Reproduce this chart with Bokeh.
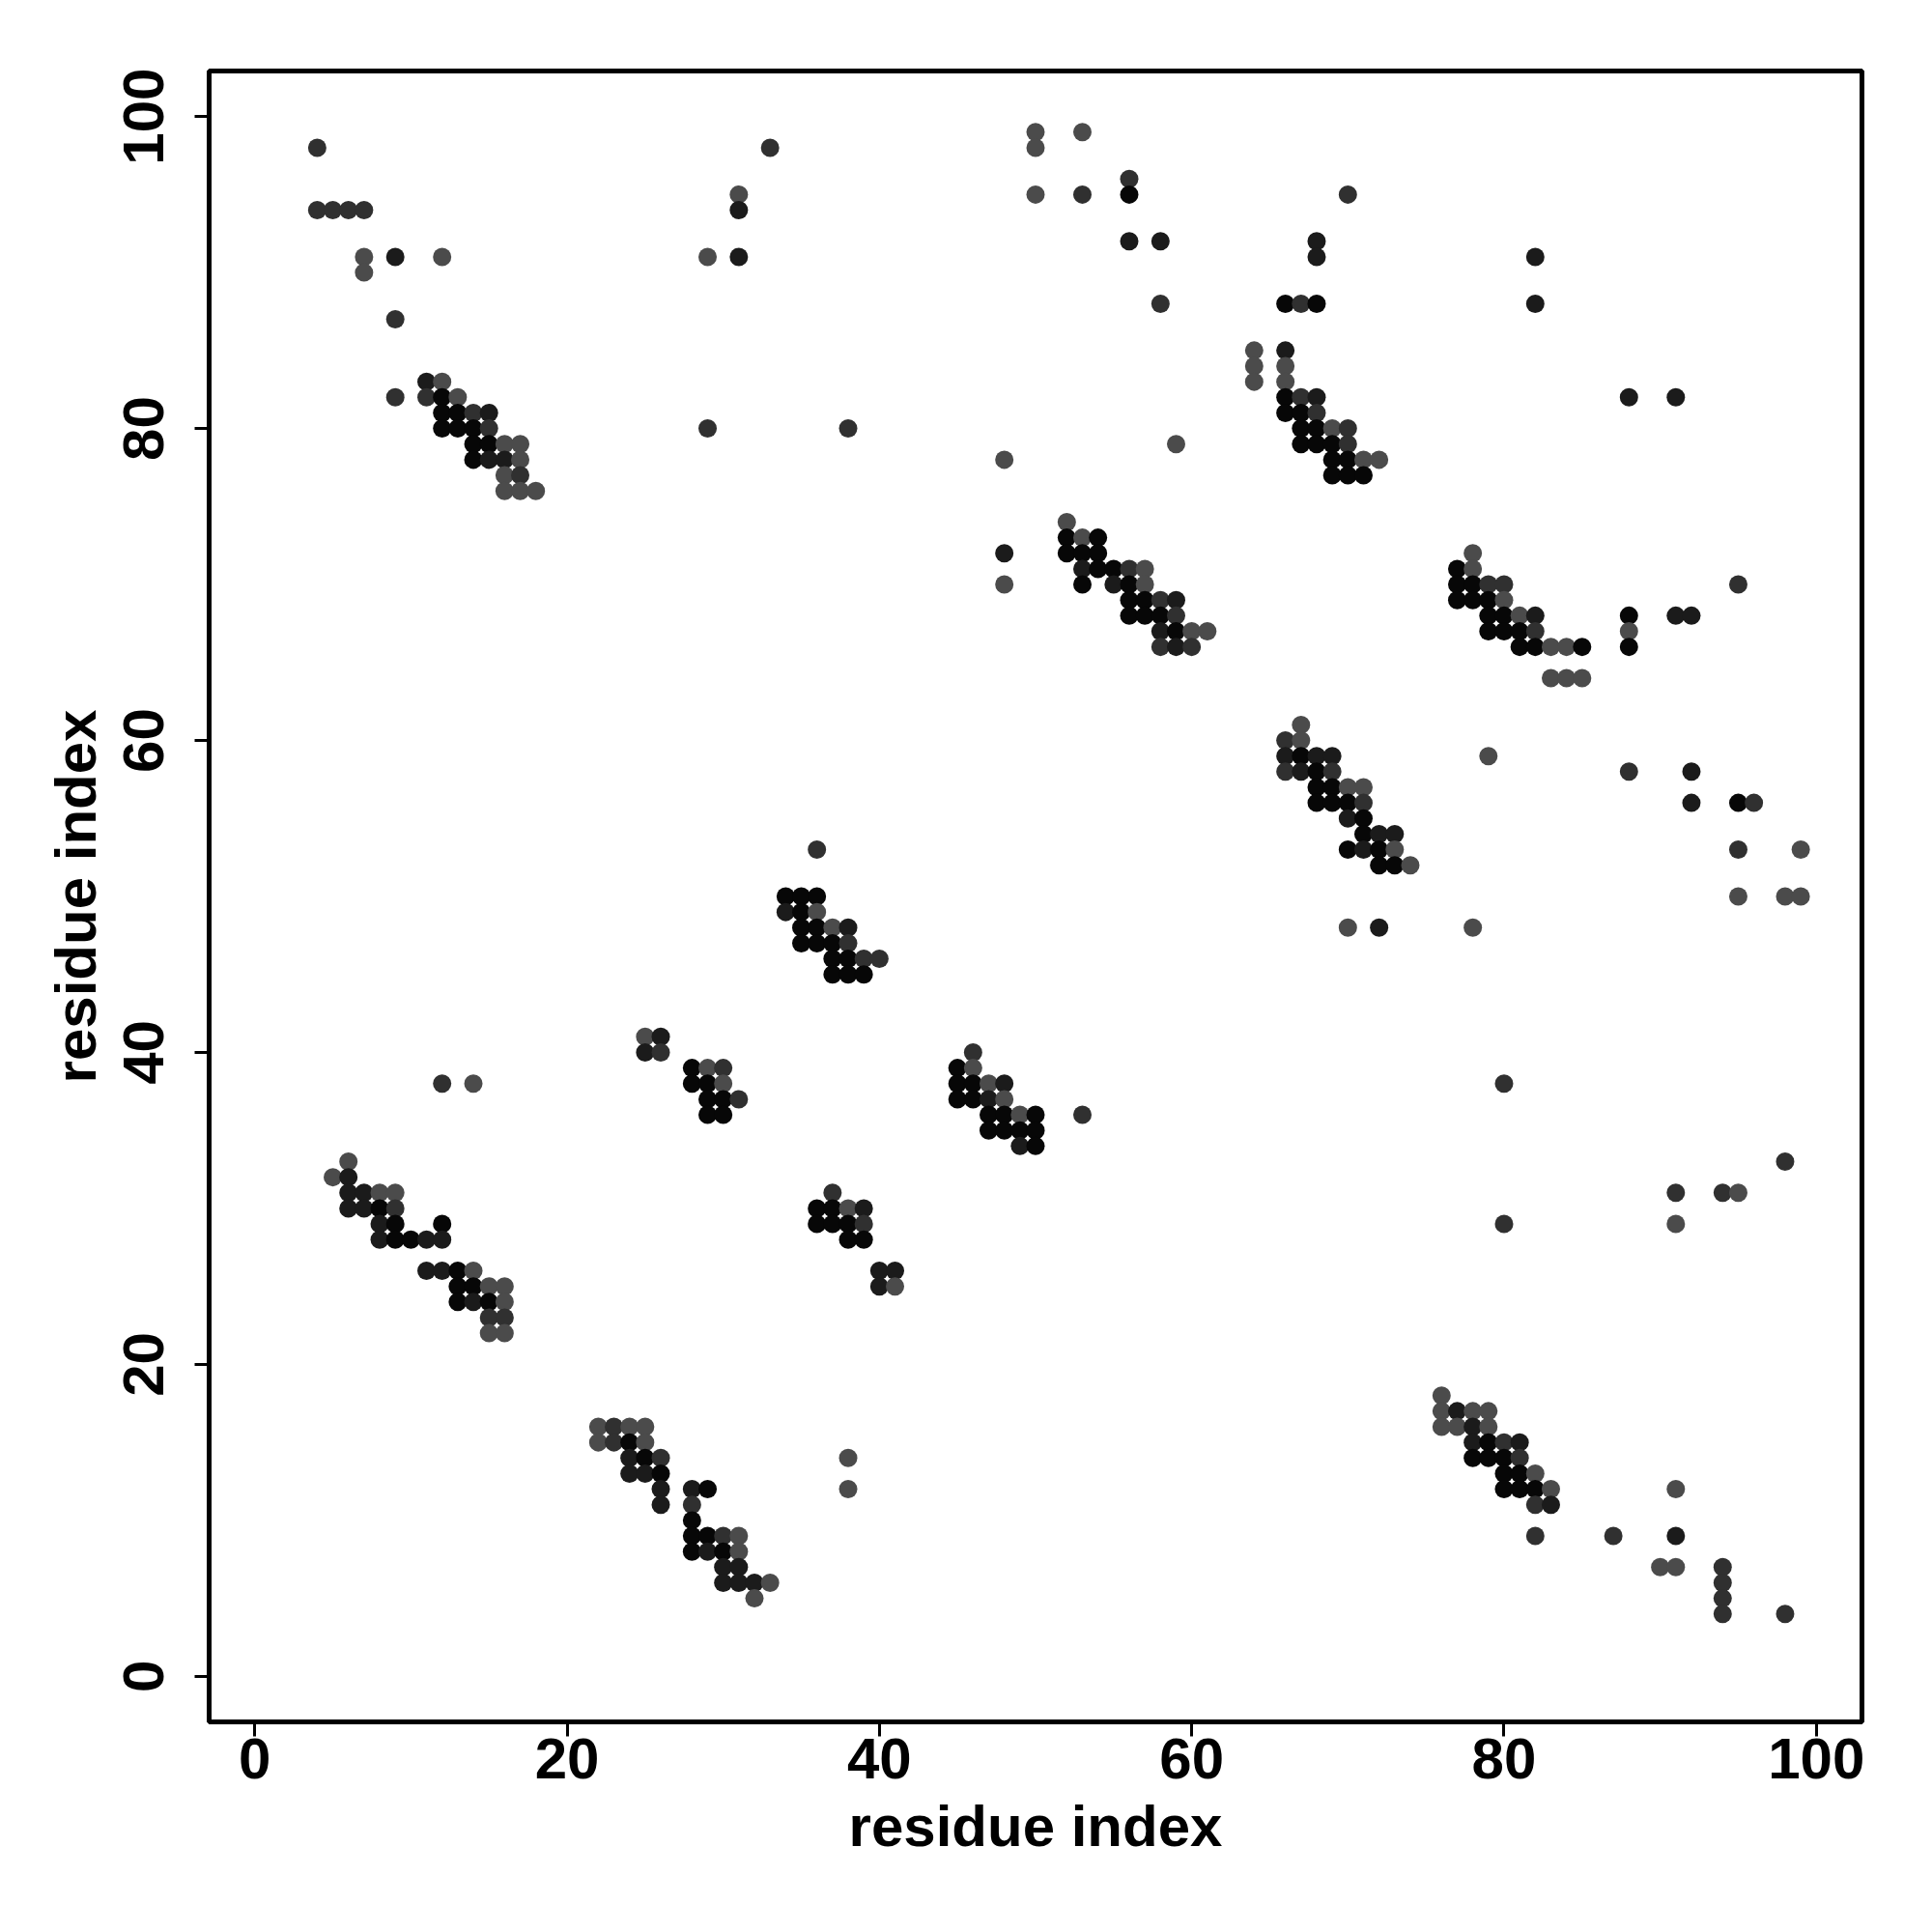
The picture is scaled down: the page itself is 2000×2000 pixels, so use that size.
import math
from bokeh.plotting import figure
from bokeh.models import Range1d, FixedTicker, ColumnDataSource
from bokeh.embed import file_html
from bokeh.resources import INLINE

# contacts: (residue i, residue j, shade level 0=darkest .. 3=lightest)
block_top_left = [(4,98,2),(4,94,2),(5,94,2),(6,94,2),(7,94,2),(7,91,3),(9,91,1),(12,91,3),(7,90,3),(9,87,2),
    (11,83,1),(12,83,3),(9,82,2),(11,82,2),(12,82,0),(13,82,3),(12,81,0),(13,81,0),(14,81,2),(15,81,1),
    (12,80,0),(13,80,0),(14,80,0),(15,80,2),(14,79,0),(15,79,0),(16,79,3),(17,79,3),
    (14,78,0),(15,78,1),(16,78,1),(17,78,3),(16,77,3),(17,77,2),(16,76,3),(17,76,3),(18,76,3)]
block_top_mid = [(33,98,2),(31,95,3),(31,94,1),(29,91,3),(31,91,1),(29,80,2),(38,80,2)]
block_top_center = [(48,78,3),(48,72,1),(48,70,3),(50,99,3),(50,98,3),(53,99,3),(50,95,3),(53,95,2),
    (56,96,2),(56,95,0),(56,92,1),(58,92,1),(58,88,2),(59,79,3),(52,74,3),
    (52,73,0),(53,73,3),(54,73,0),(52,72,0),(53,72,0),(54,72,0),
    (53,71,1),(54,71,0),(55,71,0),(56,71,2),(57,71,3),(53,70,0),(55,70,1),(56,70,0),(57,70,3),
    (56,69,0),(57,69,0),(58,69,2),(59,69,1),(56,68,0),(57,68,0),(58,68,0),(59,68,2),
    (58,67,1),(59,67,0),(60,67,3),(61,67,3),(58,66,2),(59,66,1),(60,66,2)]
block_top_right_a = [(70,95,2),(68,92,1),(68,91,1),(66,88,0),(67,88,2),(68,88,0),
    (64,85,3),(64,84,3),(64,83,3),(66,85,1),(66,84,3),(66,83,3),(66,82,0),(67,82,2),(68,82,1),
    (66,81,0),(67,81,0),(68,81,2),(67,80,0),(68,80,0),(69,80,3),(70,80,2),
    (67,79,0),(68,79,0),(69,79,0),(70,79,2),(69,78,0),(70,78,0),(71,78,3),(72,78,3),
    (69,77,0),(70,77,0),(71,77,0)]
block_top_right_b = [(82,91,1),(82,88,1),(88,82,1),(91,82,1),(78,72,3),(77,71,0),(78,71,3),
    (77,70,0),(78,70,0),(79,70,2),(80,70,2),(77,69,0),(78,69,0),(79,69,0),(80,69,3),
    (79,68,0),(80,68,0),(81,68,3),(82,68,1),(88,68,0),(91,68,1),(92,68,1),(95,70,2),
    (79,67,0),(80,67,0),(81,67,0),(82,67,2),(88,67,3),
    (81,66,0),(82,66,0),(83,66,3),(84,66,3),(85,66,0),(88,66,0),(83,64,3),(84,64,3),(85,64,3),
    (79,59,3),(88,58,2),(92,58,1),(92,56,1),(95,56,0),(96,56,2),(95,53,2),(99,53,3),
    (95,50,3),(98,50,3),(99,50,3),(78,48,3)]
block_mid_right = [(67,61,3),(66,60,2),(67,60,3),(66,59,1),(67,59,0),(68,59,1),(69,59,1),
    (66,58,2),(67,58,1),(68,58,0),(69,58,2),(68,57,0),(69,57,0),(70,57,3),(71,57,3),
    (68,56,0),(69,56,0),(70,56,0),(71,56,2),(70,55,1),(71,55,0),(71,54,0),(72,54,1),(73,54,1),
    (70,53,0),(71,53,1),(72,53,0),(73,53,3),(72,52,0),(73,52,0),(74,52,3),(70,48,3),(72,48,1)]
block_mid = [(36,53,2),(34,50,0),(35,50,0),(36,50,0),(34,49,1),(35,49,0),(36,49,3),
    (35,48,0),(36,48,0),(37,48,3),(38,48,1),(35,47,0),(36,47,0),(37,47,0),(38,47,2),
    (37,46,0),(38,46,0),(39,46,2),(40,46,2),(37,45,0),(38,45,0),(39,45,0)]
block_mid_left = [(25,41,3),(26,41,1),(25,40,1),(26,40,2),(28,39,0),(29,39,3),(30,39,2),
    (28,38,0),(29,38,0),(30,38,3),(29,37,0),(30,37,0),(31,37,2),(29,36,0),(30,36,0)]
block_mid_center = [(46,40,2),(45,39,0),(46,39,3),(45,38,0),(46,38,0),(47,38,3),(48,38,1),
    (45,37,0),(46,37,0),(47,37,1),(48,37,3),(47,36,0),(48,36,0),(49,36,3),(50,36,0),
    (47,35,0),(48,35,0),(49,35,0),(50,35,0),(49,34,1),(50,34,0),(53,36,2)]
block_low_mid = [(37,31,2),(36,30,0),(37,30,0),(38,30,3),(39,30,1),(36,29,0),(37,29,0),(38,29,0),(39,29,2),
    (38,28,0),(39,28,0),(40,26,1),(41,26,1),(40,25,1),(41,25,3)]
block_low_left = [(12,38,2),(14,38,3),(6,33,3),(5,32,3),(6,32,1),(6,31,1),(7,31,1),(8,31,3),(9,31,3),
    (6,30,1),(7,30,1),(8,30,0),(9,30,2),(8,29,1),(9,29,0),(12,29,0),
    (8,28,1),(9,28,0),(10,28,0),(11,28,1),(12,28,1),(11,26,1),(12,26,1),(13,26,0),(14,26,3),
    (13,25,0),(14,25,0),(15,25,3),(16,25,3),(13,24,0),(14,24,1),(15,24,0),(16,24,3),
    (15,23,2),(16,23,2),(15,22,3),(16,22,3)]
block_bottom_left = [(22,16,3),(23,16,2),(24,16,3),(25,16,3),(22,15,3),(23,15,2),(24,15,0),(25,15,3),
    (24,14,1),(25,14,0),(26,14,2),(24,13,1),(25,13,1),(26,13,0),(26,12,1),(28,12,1),(29,12,0),
    (26,11,1),(28,11,2),(28,10,0),(28,9,0),(29,9,0),(30,9,2),(31,9,3),(28,8,0),(29,8,1),(30,8,0),(31,8,3),
    (30,7,1),(31,7,1),(30,6,1),(31,6,1),(32,6,1),(33,6,3),(32,5,3),(38,14,3),(38,12,3)]
block_bottom_right = [(80,38,2),(98,33,2),(91,31,2),(94,31,2),(95,31,3),(80,29,2),(91,29,3),
    (76,18,3),(76,17,3),(77,17,1),(78,17,3),(79,17,3),(76,16,3),(77,16,3),(78,16,1),(79,16,3),
    (78,15,1),(79,15,0),(80,15,2),(81,15,1),(78,14,0),(79,14,0),(80,14,0),(81,14,2),
    (80,13,0),(81,13,0),(82,13,3),(80,12,0),(81,12,0),(82,12,0),(83,12,3),(82,11,2),(83,11,1),
    (82,9,2),(87,9,2),(91,9,1),(91,12,3),(90,7,3),(91,7,3),(94,7,2),(94,6,2),(94,5,2),(94,4,2),(98,4,2)]

x_ticks = [0, 20, 40, 60, 80, 100]
shade_palette = ["#070707", "#1b1b1b", "#303030", "#4b4b4b"]

blocks = [block_top_left, block_top_mid, block_top_center, block_top_right_a, block_top_right_b,
          block_mid_right, block_mid, block_mid_left, block_mid_center, block_low_mid,
          block_low_left, block_bottom_left, block_bottom_right]
pts = [t for b in blocks for t in b]
src = ColumnDataSource(dict(
    x=[t[0] for t in pts],
    y=[t[1] for t in pts],
    c=[shade_palette[t[2]] for t in pts],
))

p = figure(width=1984, height=1984,
           x_range=Range1d(-2.92, 102.92), y_range=Range1d(-2.92, 102.92),
           output_backend="svg", toolbar_location=None,
           min_border_left=216, min_border_right=57, min_border_top=73, min_border_bottom=202,
           x_axis_label="residue index", y_axis_label="residue index")
p.scatter("x", "y", source=src, size=19, fill_color="c", line_color=None)

p.grid.visible = False
p.outline_line_color = "black"
p.outline_line_width = 5
p.background_fill_color = "white"
p.border_fill_color = "white"

for ax in (p.xaxis[0], p.yaxis[0]):
    ax.ticker = FixedTicker(ticks=x_ticks)
    ax.axis_line_color = None
    ax.major_tick_in = 0
    ax.major_tick_out = 15
    ax.major_tick_line_width = 3
    ax.major_tick_line_color = "black"
    ax.minor_tick_line_color = None
    ax.major_label_text_font = "Liberation Sans"
    ax.major_label_text_font_style = "bold"
    ax.major_label_text_font_size = "60px"
    ax.major_label_text_color = "black"
    ax.axis_label_text_font = "Liberation Sans"
    ax.axis_label_text_font_style = "bold"
    ax.axis_label_text_font_size = "60px"
    ax.axis_label_text_color = "black"

p.xaxis.major_label_standoff = 2
p.xaxis.axis_label_standoff = 13
p.yaxis.major_label_orientation = "parallel"
p.yaxis.major_label_standoff = 32
p.yaxis.axis_label_standoff = 14

open("out.html", "w").write(file_html(p, INLINE))
